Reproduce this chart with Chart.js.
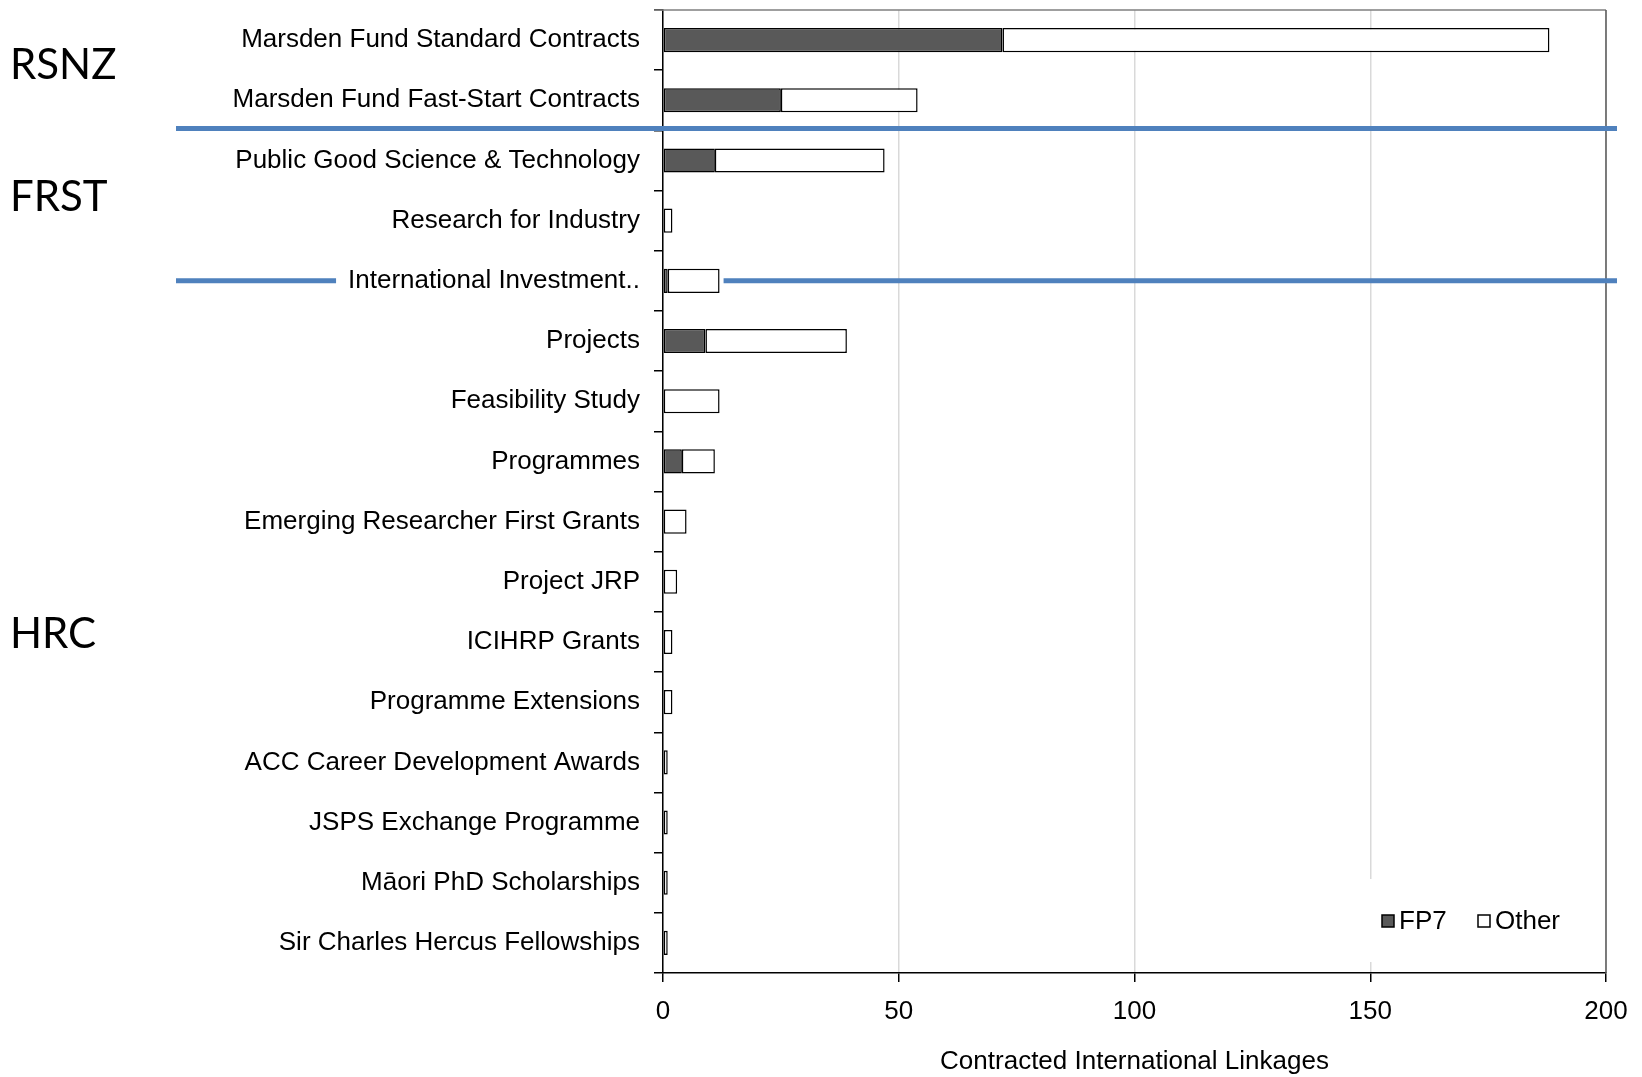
<!DOCTYPE html>
<html>
<head>
<meta charset="utf-8">
<title>Contracted International Linkages</title>
<script src="https://cdn.jsdelivr.net/npm/chart.js@4.4.1/dist/chart.umd.min.js"></script>
<style>
  html, body { margin: 0; padding: 0; background: #fff; }
  #wrap { width: 1642px; height: 1077px; }
</style>
</head>
<body>
<div id="wrap"><canvas id="chart" width="1642" height="1077"></canvas></div>
<script>
// --- DATA ---
const categories = [
    'Marsden Fund Standard Contracts',
    'Marsden Fund Fast-Start Contracts',
    'Public Good Science & Technology',
    'Research for Industry',
    'International Investment..',
    'Projects',
    'Feasibility Study',
    'Programmes',
    'Emerging Researcher First Grants',
    'Project JRP',
    'ICIHRP Grants',
    'Programme Extensions',
    'ACC Career Development Awards',
    'JSPS Exchange Programme',
    'Māori PhD Scholarships',
    'Sir Charles Hercus Fellowships'
];
const fp7Values   = [72, 25, 11, 0, 1, 9, 0, 4, 0, 0, 0, 0, 0, 0, 0, 0];
const otherValues = [116, 29, 36, 2, 11, 30, 12, 7, 5, 3, 2, 2, 1, 1, 1, 1];
const seriesNames = ['FP7', 'Other'];
const xTicks = [0, 50, 100, 150, 200];
const axisTitle = 'Contracted International Linkages';

// funder groups: name, position along the category axis (index units)
const groupNames = ['RSNZ', 'FRST', 'HRC'];
const groupAt = [0.42, 2.62, 9.88];

// --- STYLES ---
const LABEL_FONT = { family: '"Liberation Sans", Arial, sans-serif', size: 26 };
const BLUE = '#4f81bd';

// --- PLUGINS ---
const decorPlugin = {
    id: 'decor',
    afterDraw(chart) {
        const { ctx, chartArea: a, scales: { y } } = chart;
        ctx.save();

        // plot frame (top + right)
        ctx.strokeStyle = '#7f7f7f';
        ctx.lineWidth = 1.5;
        ctx.beginPath();
        ctx.moveTo(a.left - 9, a.top);
        ctx.lineTo(a.right, a.top);
        ctx.stroke();
        ctx.strokeStyle = '#595959';
        ctx.beginPath();
        ctx.moveTo(a.right, a.top);
        ctx.lineTo(a.right, a.bottom);
        ctx.stroke();

        // blue separators between funders
        ctx.strokeStyle = BLUE;
        ctx.lineWidth = 5;
        const lineLeft = 176, lineRight = a.right + 11;
        const y1 = (y.getPixelForValue(1) + y.getPixelForValue(2)) / 2 - 2;
        ctx.beginPath();
        ctx.moveTo(lineLeft, y1);
        ctx.lineTo(lineRight, y1);
        ctx.stroke();
        const y2 = y.getPixelForValue(4);
        ctx.font = `${LABEL_FONT.size}px ${LABEL_FONT.family}`;
        const labelW = ctx.measureText(categories[4]).width;
        const labelRight = a.left - 9 - 14;
        ctx.beginPath();
        ctx.moveTo(lineLeft, y2);
        ctx.lineTo(labelRight - labelW - 12, y2);
        ctx.moveTo(chart.scales.x.getPixelForValue(fp7Values[4] + otherValues[4]) + 4, y2);
        ctx.lineTo(lineRight, y2);
        ctx.stroke();

        // group names
        ctx.fillStyle = '#000';
        ctx.font = '42px Lato, "Noto Sans", sans-serif';
        ctx.textAlign = 'left';
        ctx.textBaseline = 'middle';
        groupNames.forEach((g, i) => ctx.fillText(g, 10, y.getPixelForValue(groupAt[i])));

        // legend in the lower right of the plot
        const ly = 921;
        ctx.fillStyle = '#fff';
        ctx.fillRect(1356, 879, 214, 83);
        ctx.font = `${LABEL_FONT.size}px ${LABEL_FONT.family}`;
        const items = [
            { x: 1382, fill: '#595959', text: seriesNames[0] },
            { x: 1478, fill: '#ffffff', text: seriesNames[1] }
        ];
        items.forEach(it => {
            ctx.fillStyle = it.fill;
            ctx.fillRect(it.x, ly - 6, 12, 12);
            ctx.strokeStyle = '#000';
            ctx.lineWidth = 1.5;
            ctx.strokeRect(it.x, ly - 6, 12, 12);
            ctx.fillStyle = '#000';
            ctx.fillText(it.text, it.x + 17, ly + 1);
        });
        ctx.restore();
    }
};

// --- CHART ---
new Chart(document.getElementById('chart'), {
    type: 'bar',
    data: {
        labels: categories,
        datasets: [
            {
                label: seriesNames[0],
                data: fp7Values,
                backgroundColor: '#595959',
                borderColor: '#000',
                borderWidth: 1.5,
                borderSkipped: false,
                categoryPercentage: 0.8,
                barPercentage: 0.5
            },
            {
                label: seriesNames[1],
                data: otherValues,
                backgroundColor: '#ffffff',
                borderColor: '#000',
                borderWidth: 1.5,
                borderSkipped: false,
                categoryPercentage: 0.8,
                barPercentage: 0.5
            }
        ]
    },
    options: {
        indexAxis: 'y',
        responsive: false,
        animation: false,
        devicePixelRatio: 1,
        layout: { padding: { top: 10, right: 36, left: 0, bottom: 0 } },
        plugins: {
            legend: { display: false },
            tooltip: { enabled: false }
        },
        scales: {
            x: {
                stacked: true,
                min: 0,
                max: 200,
                afterBuildTicks: (scale) => { scale.ticks = xTicks.map(v => ({ value: v })); },
                afterFit: (scale) => { scale.height = 104; },
                grid: { color: '#d9d9d9', lineWidth: 1.5, tickColor: '#000', tickLength: 9 },
                border: { color: '#000', width: 1.5 },
                ticks: { color: '#000', font: LABEL_FONT, padding: 14, maxRotation: 0 },
                title: {
                    display: true,
                    text: axisTitle,
                    color: '#000',
                    font: LABEL_FONT,
                    padding: { top: 4, bottom: 0 }
                }
            },
            y: {
                stacked: true,
                afterFit: (scale) => {
                    scale.width = 663;
                    scale.paddingTop = 0;
                    scale.paddingBottom = 0;
                },
                grid: { drawOnChartArea: false, tickColor: '#000', tickLength: 9, lineWidth: 1.5 },
                border: { color: '#000', width: 1.5 },
                ticks: { color: '#000', font: LABEL_FONT, padding: 14, autoSkip: false }
            }
        }
    },
    plugins: [decorPlugin]
});
</script>
</body>
</html>
